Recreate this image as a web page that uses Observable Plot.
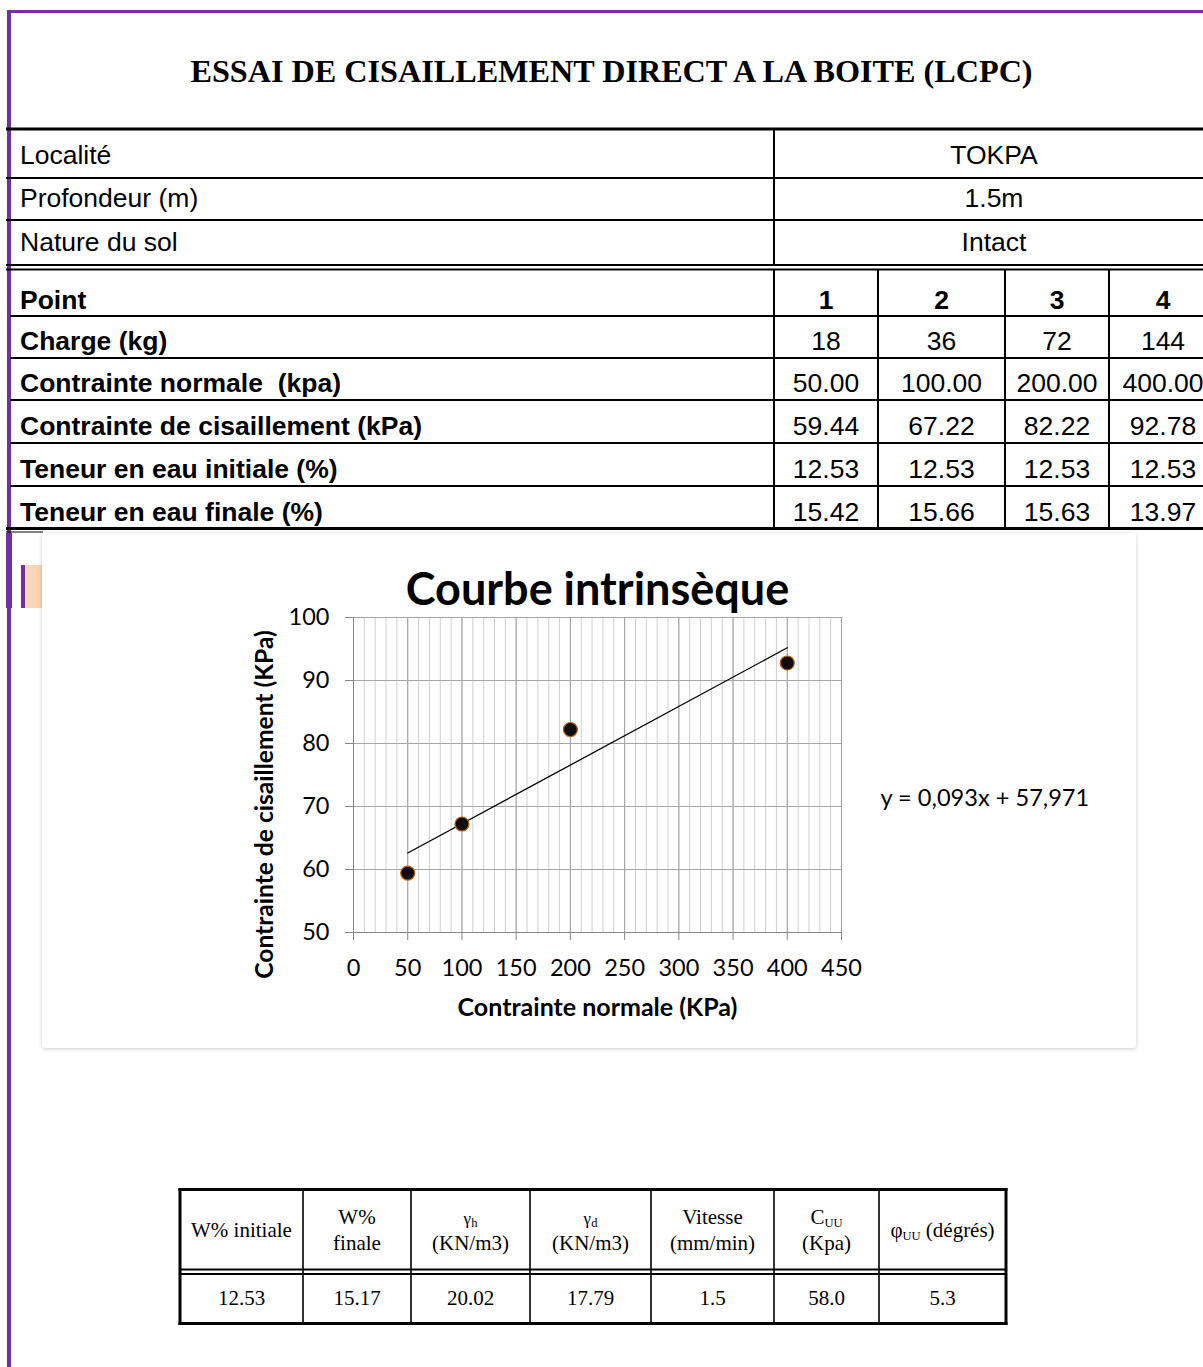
<!DOCTYPE html>
<html><head><meta charset="utf-8">
<script src="https://cdn.jsdelivr.net/npm/d3@7"></script>
<script src="https://cdn.jsdelivr.net/npm/@observablehq/plot@0.6"></script>
<style>
html,body{margin:0;padding:0;background:#fff;}
body{width:1203px;height:1367px;position:relative;overflow:hidden;}
.abs{position:absolute;}
#card{position:absolute;left:42px;top:533px;width:1094px;height:515px;background:#fff;border-radius:3px;box-shadow:0 1px 4px rgba(0,0,0,0.20);}
#card svg{display:block;}
</style></head><body>
<div class="abs" style="left:7px;top:10px;width:4px;height:1357px;background:#7030a0"></div>
<div class="abs" style="left:7px;top:10px;width:1196px;height:3px;background:#7030a0"></div>
<div class="abs" style="left:6px;top:533px;width:6px;height:75px;background:#7030a0"></div>
<div class="abs" style="left:21px;top:565px;width:4px;height:43px;background:#7030a0"></div>
<div class="abs" style="left:25px;top:565px;width:17px;height:43px;background:#fcd5b4"></div>
<svg id="tables" class="abs" width="1203" height="1367" style="left:0;top:0"></svg>
<div id="card"></div>
<script>
// ---------- data ----------
const reportTitle = "ESSAI DE CISAILLEMENT DIRECT A LA BOITE (LCPC)";
const infoLabels = ["Localité", "Profondeur (m)", "Nature du sol"];
const infoValues = ["TOKPA", "1.5m", "Intact"];
const rowLabels = ["Point", "Charge (kg)", "Contrainte normale  (kpa)", "Contrainte de cisaillement (kPa)", "Teneur en eau initiale (%)", "Teneur en eau finale (%)"];
const pointIds = ["1", "2", "3", "4"];
const charges = ["18", "36", "72", "144"];
const normalStress = [50, 100, 200, 400];
const shearStress = [59.44, 67.22, 82.22, 92.78];
const waterInitial = ["12.53", "12.53", "12.53", "12.53"];
const waterFinal = ["15.42", "15.66", "15.63", "13.97"];

const chartTitle = "Courbe intrinsèque";
const xTitle = "Contrainte normale (KPa)";
const yTitle = "Contrainte de cisaillement (KPa)";
const equation = "y = 0,093x + 57,971";
const xTicks = [0, 50, 100, 150, 200, 250, 300, 350, 400, 450];
const yTicks = [50, 60, 70, 80, 90, 100];

const summaryHead1 = ["W% initiale", "W%", "γ", "γ", "Vitesse", "C", "φ"];
const summarySub = ["", "", "h", "d", "", "UU", "UU"];
const summaryTail = ["", "", "", "", "", "", " (dégrés)"];
const summaryHead2 = ["", "finale", "(KN/m3)", "(KN/m3)", "(mm/min)", "(Kpa)", ""];
const summaryValues = ["12.53", "15.17", "20.02", "17.79", "1.5", "58.0", "5.3"];

// ---------- tables ----------
const svg = d3.select("#tables");
const sans = "'Liberation Sans', Arial, sans-serif";
const serif = "'Liberation Serif', 'Times New Roman', serif";
function hline(y, x1, x2, w) {
  svg.append("line").attr("x1", x1).attr("x2", x2).attr("y1", y).attr("y2", y)
    .attr("stroke", "#000").attr("stroke-width", w);
}
function vline(x, y1, y2, w) {
  svg.append("line").attr("x1", x).attr("x2", x).attr("y1", y1).attr("y2", y2)
    .attr("stroke", "#000").attr("stroke-width", w);
}
function txt(s, x, y, opts = {}) {
  return svg.append("text").attr("x", x).attr("y", y)
    .attr("text-anchor", opts.anchor || "start")
    .style("font-family", opts.family || sans)
    .style("font-size", (opts.size || 26.5) + "px")
    .style("font-weight", opts.bold ? "bold" : "normal")
    .style("white-space", "pre")
    .attr("fill", "#000").text(s);
}

txt(reportTitle, 611.5, 82, {anchor: "middle", family: serif, size: 32.2, bold: true});

// header table
hline(129, 6, 1203, 3);
const infoBottoms = [178, 220, 265];
const infoBase = [164, 207, 251];
infoBottoms.forEach(y => hline(y, 6, 1203, 2));
hline(269.5, 6, 1203, 2);
vline(774, 130, 265, 2);
infoLabels.forEach((s, i) => txt(s, 20, infoBase[i]));
infoValues.forEach((s, i) => txt(s, 994, infoBase[i], {anchor: "middle"}));

// points table
const rowBottoms = [316, 358, 400, 443, 486];
rowBottoms.forEach(y => hline(y, 10, 1203, 2));
hline(528.5, 6, 1203, 3);
hline(532, 6, 43, 1);
[774, 878, 1005, 1109].forEach(x => vline(x, 270, 528, 2));
const rowBase = [309, 350, 392, 435, 478, 521];
rowLabels.forEach((s, i) => txt(s, 20, rowBase[i], {bold: true}));
const colCenters = [826, 941.5, 1057, 1163];
const rowsValues = [
  pointIds, charges,
  normalStress.map(d => d.toFixed(2)),
  shearStress.map(d => d.toFixed(2)),
  waterInitial, waterFinal
];
rowsValues.forEach((vals, r) => vals.forEach((v, c) =>
  txt(v, colCenters[c], rowBase[r], {anchor: "middle", bold: r === 0})));

// summary table
const sx = [180, 303, 411, 530, 651, 774, 879, 1006];
hline(1189.5, 178.5, 1007.5, 3);
hline(1269.5, 180, 1006, 2);
hline(1274, 180, 1006, 2);
hline(1323.5, 178.5, 1007.5, 3);
sx.forEach((x, i) => vline(x, 1188, 1325, (i === 0 || i === sx.length - 1) ? 3 : 1.6));
summaryHead1.forEach((h, i) => {
  const cx = (sx[i] + sx[i + 1]) / 2;
  const two = summaryHead2[i] !== "";
  const t = txt("", cx, two ? 1224 : 1237, {anchor: "middle", family: serif, size: 21});
  const greek = h === "γ";
  t.append("tspan").style("font-size", greek ? "17px" : "21px").text(h);
  if (summarySub[i]) t.append("tspan").attr("dy", 3).style("font-size", "12.5px").text(summarySub[i]);
  if (summaryTail[i]) t.append("tspan").attr("dy", -3).text(summaryTail[i]);
  if (two) txt(summaryHead2[i], cx, 1250, {anchor: "middle", family: serif, size: 21});
});
summaryValues.forEach((v, i) => txt(v, (sx[i] + sx[i + 1]) / 2, 1305, {anchor: "middle", family: serif, size: 21}));

// ---------- chart ----------
const pts = normalStress.map((x, i) => ({x, y: shearStress[i]}));
const font = "Lato, 'Open Sans', sans-serif";
const chart = Plot.plot({
  width: 1094, height: 515,
  marginLeft: 311, marginRight: 295, marginTop: 84, marginBottom: 116,
  style: {fontFamily: font, fontSize: "23px", color: "#000", background: "transparent", overflow: "visible"},
  x: {domain: [0, 450]},
  y: {domain: [50, 100]},
  marks: [
    Plot.gridX({ticks: 45, stroke: "#d0d0d0", strokeOpacity: 1, strokeWidth: 1}),
    Plot.gridX({ticks: xTicks, stroke: "#a0a0a0", strokeOpacity: 1, strokeWidth: 1}),
    Plot.gridY({ticks: yTicks, stroke: "#a6a6a6", strokeOpacity: 1, strokeWidth: 1}),
    Plot.ruleX([0], {stroke: "#868686", strokeWidth: 1}),
    Plot.ruleY([50], {stroke: "#868686", strokeWidth: 1}),
    Plot.axisX({ticks: xTicks, tickSize: 8, tickPadding: 19, stroke: "#868686", fill: "#000", fontSize: 23.5, label: null}),
    Plot.axisY({ticks: yTicks, tickSize: 8, tickPadding: 16, stroke: "#868686", fill: "#000", fontSize: 23.5, label: null}),
    Plot.linearRegressionY(pts, {x: "x", y: "y", stroke: "#000", strokeWidth: 1.3, ci: 0}),
    Plot.dot(pts, {x: "x", y: "y", r: 7, fill: "#0d0d0d", stroke: "#c55a11", strokeWidth: 1.2}),
    Plot.text([chartTitle], {frameAnchor: "top", dy: -27, lineAnchor: "middle", fontSize: 45, fontWeight: "bold"}),
    Plot.text([xTitle], {frameAnchor: "bottom", dy: 75, lineAnchor: "middle", fontSize: 25, fontWeight: "bold"}),
    Plot.text([yTitle], {frameAnchor: "left", dx: -88, dy: 29.5, rotate: -90, textAnchor: "middle", lineAnchor: "middle", fontSize: 24.6, fontWeight: "bold"}),
    Plot.text([equation], {frameAnchor: "right", dx: 39, dy: 23.5, textAnchor: "start", lineAnchor: "middle", fontSize: 23.6})
  ]
});
document.getElementById("card").appendChild(chart);
</script>
</body></html>
